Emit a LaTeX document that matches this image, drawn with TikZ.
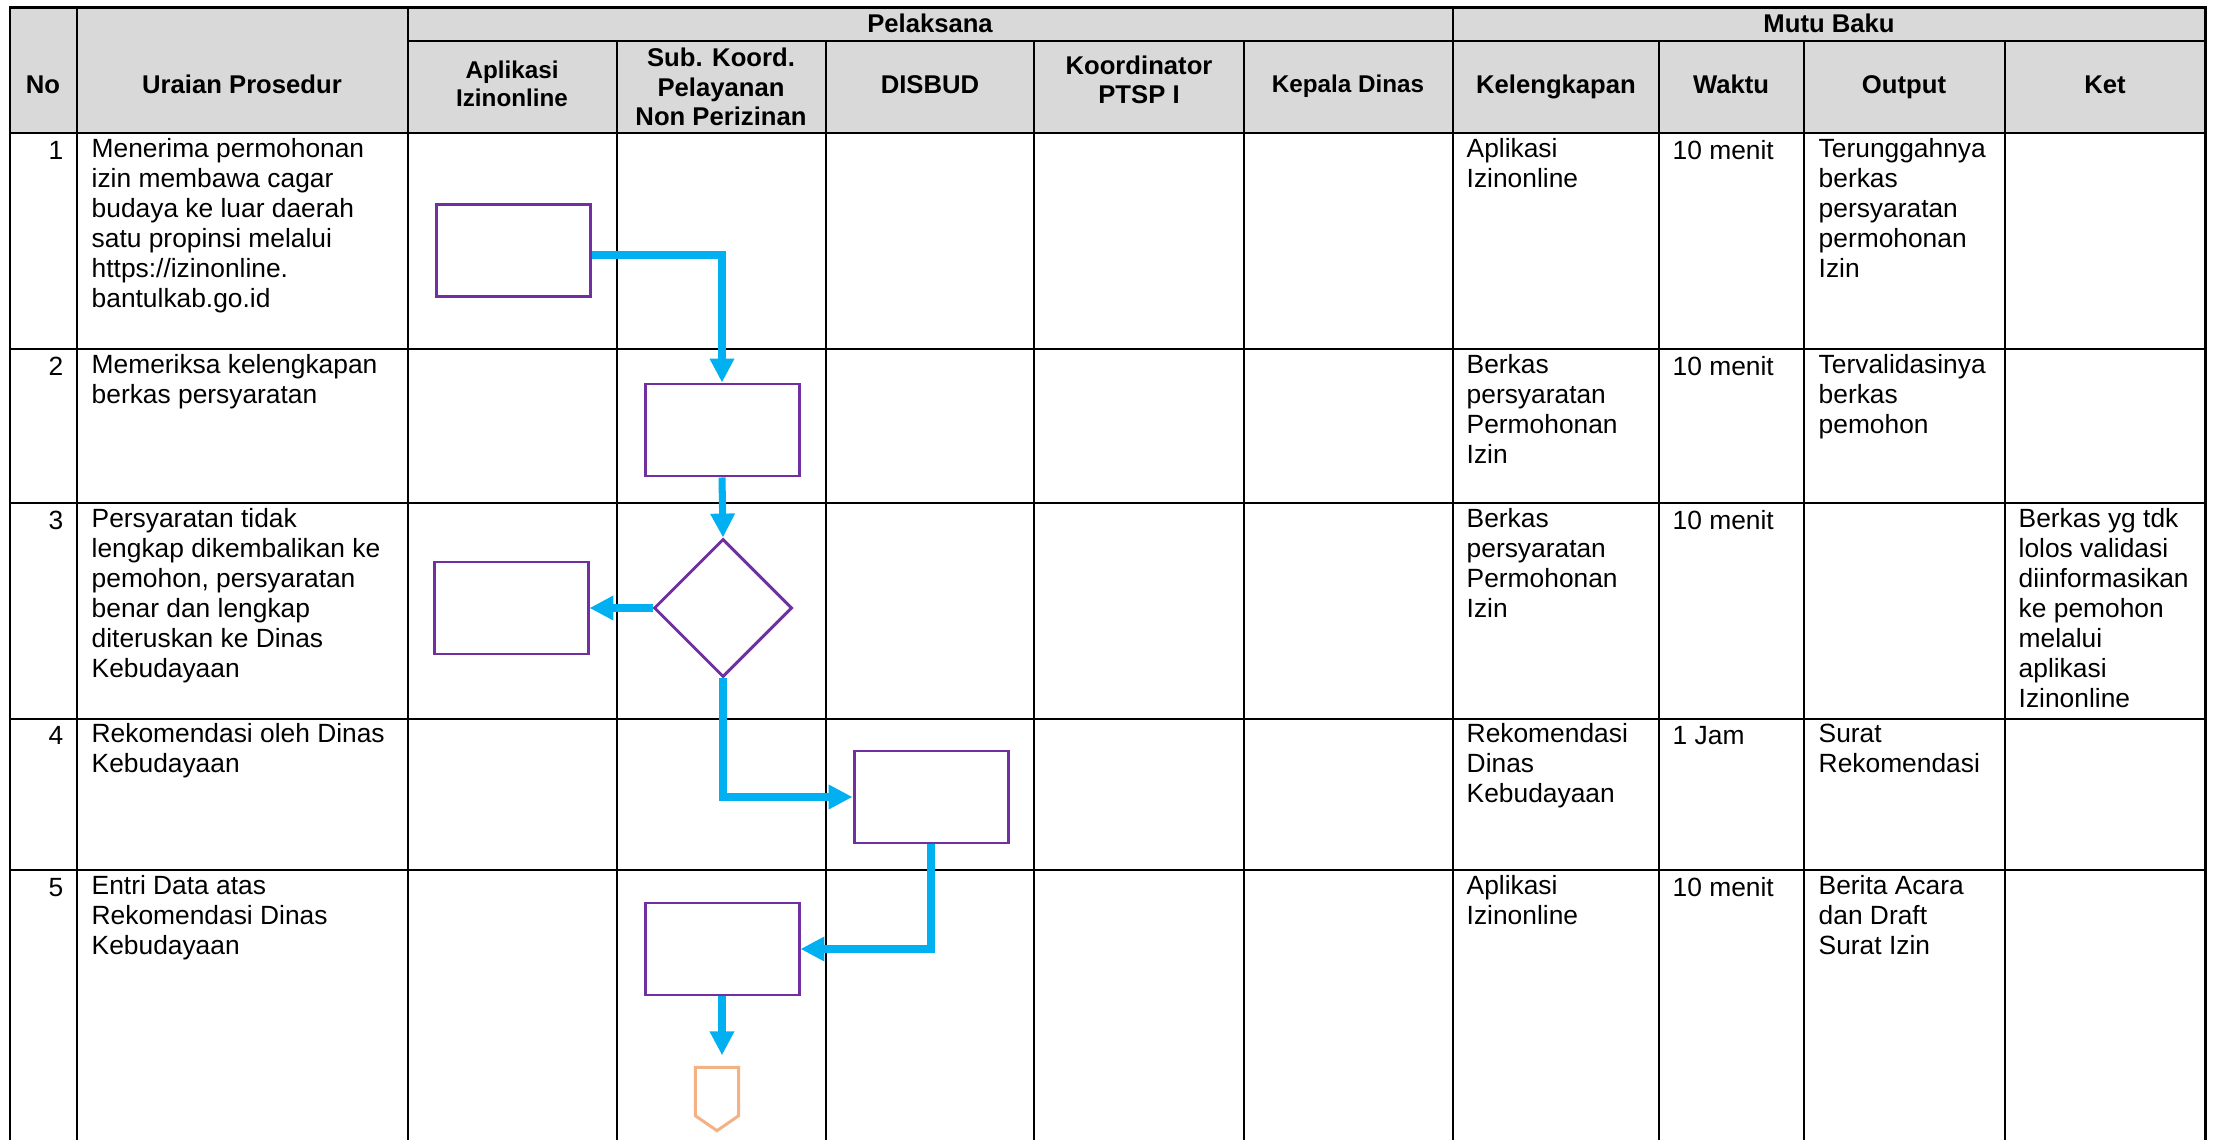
\documentclass[tikz,border=0pt]{standalone}
\usepackage{fontspec}
\setmainfont{Liberation Sans}
\usepackage{tikz}
\usetikzlibrary{arrows.meta, shapes, positioning}
\definecolor{flowpurple}{RGB}{112,48,160}
\definecolor{flowblue}{RGB}{0,176,240}
\definecolor{offorange}{RGB}{244,177,131}
\definecolor{headgray}{RGB}{217,217,217}

\begin{document}
\begin{tikzpicture}[x=0.1mm, y=-0.1mm,
  hd/.style={anchor=base, align=center, inner sep=0pt, font=\fontsize{7.3pt}{8.4pt}\selectfont\bfseries},
  hdsmall/.style={hd, font=\fontsize{6.9pt}{8pt}\selectfont\bfseries},
  cell/.style={anchor=north west, align=left, inner sep=0pt, font=\fontsize{7.5pt}{8.54pt}\selectfont, execute at begin node=\strut},
  num/.style={cell, anchor=north east},
  proc/.style={draw=flowpurple, line width=0.85pt, minimum width=15.4mm, minimum height=9.2mm, inner sep=0pt},
  decide/.style={diamond, draw=flowpurple, line width=0.85pt, minimum width=13.8mm, minimum height=13.8mm, inner sep=0pt},
  offpage/.style={draw=offorange, line width=0.85pt},
  flow/.style={draw=flowblue, line width=2pt, -{Triangle[length=6.8pt, width=6.6pt]}}]
\useasboundingbox (0,0) rectangle (2215,1140);

\path [fill=headgray] (10,8) rectangle (2205,133);

\draw [line width=0.6pt] (408,41) -- (2205,41);
\draw [line width=0.6pt] (10,133) -- (2205,133);
\draw [line width=0.6pt] (10,349) -- (2205,349);
\draw [line width=0.6pt] (10,503) -- (2205,503);
\draw [line width=0.6pt] (10,719) -- (2205,719);
\draw [line width=0.6pt] (10,870) -- (2205,870);
\draw [line width=0.6pt] (77,8) -- (77,1140);
\draw [line width=0.6pt] (408,8) -- (408,1140);
\draw [line width=0.6pt] (617,41) -- (617,1140);
\draw [line width=0.6pt] (826,41) -- (826,1140);
\draw [line width=0.6pt] (1034,41) -- (1034,1140);
\draw [line width=0.6pt] (1244,41) -- (1244,1140);
\draw [line width=0.6pt] (1453,8) -- (1453,1140);
\draw [line width=0.6pt] (1659,41) -- (1659,1140);
\draw [line width=0.6pt] (1804,41) -- (1804,1140);
\draw [line width=0.6pt] (2005,41) -- (2005,1140);
\draw [line width=0.85pt] (10,1140) -- (10,8) -- (2205,8) -- (2205,1140);

\node [hd] (hno) at (43,94) {No};
\node [hd] (hur) at (242,94) {Uraian Prosedur};
\node [hd] (hpl) at (930,33) {Pelaksana};
\node [hd] (hmb) at (1829,33) {Mutu Baku};
\node [hdsmall, anchor=center] (happ) at (512,84) {Aplikasi\\Izinonline};
\node [hd, anchor=center] (hsub) at (721,87) {Sub. Koord.\\Pelayanan\\Non Perizinan};
\node [hd] (hdis) at (930,94) {DISBUD};
\node [hd, anchor=center] (hko) at (1139,80) {Koordinator\\PTSP I};
\node [hdsmall] (hkd) at (1348,93) {Kepala Dinas};
\node [hd] (hkel) at (1556,94) {Kelengkapan};
\node [hd] (hwk) at (1731,94) {Waktu};
\node [hd] (hout) at (1904,94) {Output};
\node [hd] (hket) at (2105,94) {Ket};

\node [num] (n1) at (64,138) {1};
\node [cell] (u1) at (91,138) {Menerima permohonan\\izin membawa cagar\\budaya ke luar daerah\\satu propinsi melalui\\https://izinonline.\\bantulkab.go.id};
\node [cell] (k1) at (1466,138) {Aplikasi\\Izinonline};
\node [cell] (w1) at (1672,138) {10 menit};
\node [cell] (o1) at (1818,138) {Terunggahnya\\berkas\\persyaratan\\permohonan\\Izin};

\node [num] (n2) at (64,354) {2};
\node [cell] (u2) at (91,354) {Memeriksa kelengkapan\\berkas persyaratan};
\node [cell] (k2) at (1466,354) {Berkas\\persyaratan\\Permohonan\\Izin};
\node [cell] (w2) at (1672,354) {10 menit};
\node [cell] (o2) at (1818,354) {Tervalidasinya\\berkas\\pemohon};

\node [num] (n3) at (64,508) {3};
\node [cell] (u3) at (91,508) {Persyaratan tidak\\lengkap dikembalikan ke\\pemohon, persyaratan\\benar dan lengkap\\diteruskan ke Dinas\\Kebudayaan};
\node [cell] (k3) at (1466,508) {Berkas\\persyaratan\\Permohonan\\Izin};
\node [cell] (w3) at (1672,508) {10 menit};
\node [cell] (t3) at (2018,508) {Berkas yg tdk\\lolos validasi\\diinformasikan\\ke pemohon\\melalui\\aplikasi\\Izinonline};

\node [num] (n4) at (64,723) {4};
\node [cell] (u4) at (91,723) {Rekomendasi oleh Dinas\\Kebudayaan};
\node [cell] (k4) at (1466,723) {Rekomendasi\\Dinas\\Kebudayaan};
\node [cell] (w4) at (1672,723) {1 Jam};
\node [cell] (o4) at (1818,723) {Surat\\Rekomendasi};

\node [num] (n5) at (64,875) {5};
\node [cell] (u5) at (91,875) {Entri Data atas\\Rekomendasi Dinas\\Kebudayaan};
\node [cell] (k5) at (1466,875) {Aplikasi\\Izinonline};
\node [cell] (w5) at (1672,875) {10 menit};
\node [cell] (o5) at (1818,875) {Berita Acara\\dan Draft\\Surat Izin};

\node [proc] (box1) at (513,251) {};
\node [proc] (box2) at (722,430) {};
\node [decide] (dec) at (723,608) {};
\node [proc] (box3) at (511,608) {};
\node [proc] (box4) at (931,797) {};
\node [proc] (box5) at (722,949) {};
\node [minimum width=4.2mm, minimum height=6.2mm, inner sep=0pt] (offp) at (717,1099) {};
\draw [offpage] (offp.north west) -- (offp.north east) -- ([yshift=1.5mm]offp.south east) -- (offp.south) -- ([yshift=1.5mm]offp.south west) -- cycle;

\draw [flow] ([yshift=-0.4mm]box1.east) -| (box2.north);
\draw [flow] (box2.south) -- (dec.north);
\draw [flow] (dec.west) -- (box3.east);
\draw [flow] (dec.south) |- (box4.west);
\draw [flow] (box4.south) |- (box5.east);
\draw [flow, shorten >=1.2mm] (box5.south) -- (box5.south |- offp.north);
\end{tikzpicture}
\end{document}
